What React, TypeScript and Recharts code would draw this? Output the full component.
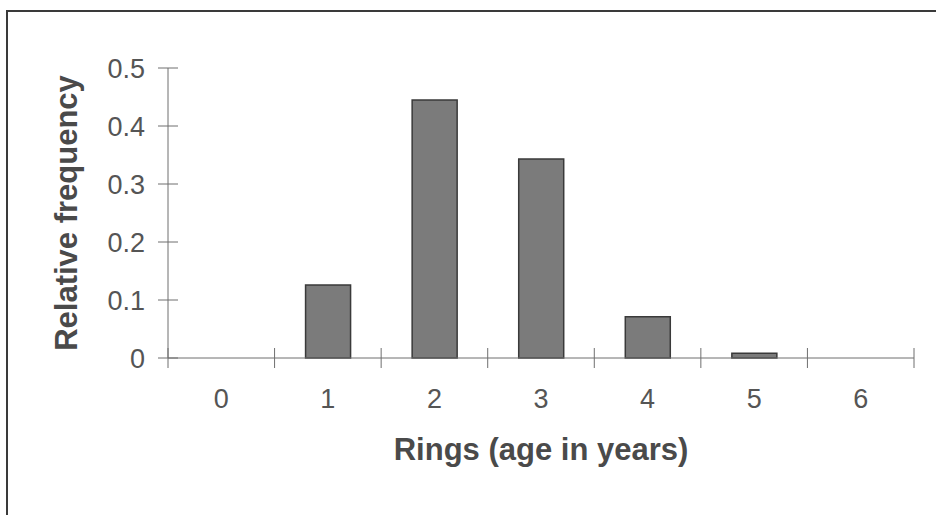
import { BarChart, Bar, XAxis, YAxis, Label } from "recharts";

// rings (age in years) vs relative frequency
const rings = ["0", "1", "2", "3", "4", "5", "6"];
const relFreq = [0, 0.126, 0.445, 0.343, 0.071, 0.008, 0];
const yTicks = [0, 0.1, 0.2, 0.3, 0.4, 0.5];

const data = rings.map((r, i) => ({ ring: r, freq: relFreq[i] }));

const W = 936;
const H = 515;
const LEFT = 168; // y axis width
const RIGHT = 22;
const TOP = 68;
const XAXIS_H = 157;
const BAND = (W - LEFT - RIGHT) / rings.length;

const FONT = "'Liberation Sans', Arial, sans-serif";
const AXIS = "#6f6f6f";
const TEXT = "#555";

const TICK = 10;
const Y_MARGIN = 13;

// y ticks: cross the axis, label to the left
const YTick = (props: any) => {
  const { x, y, payload } = props;
  const ax = x + TICK + Y_MARGIN;
  const label = payload.value === 0 ? "0" : String(payload.value);
  return (
    <g>
      <line x1={ax - 10} x2={ax + 10} y1={y} y2={y} stroke={AXIS} strokeWidth={1} />
      <text x={x} y={y + 10} textAnchor="end" fontSize={27} fill={TEXT} fontFamily={FONT}>
        {label}
      </text>
    </g>
  );
};

// x ticks: lines on category boundaries, labels at centers
const XTick = (props: any) => {
  const { x, y, payload, index } = props;
  const ay = y - TICK;
  const last = index === rings.length - 1;
  return (
    <g>
      <line x1={x - BAND / 2} x2={x - BAND / 2} y1={ay - 10} y2={ay + 10} stroke={AXIS} strokeWidth={1} />
      {last && (
        <line x1={x + BAND / 2} x2={x + BAND / 2} y1={ay - 10} y2={ay + 10} stroke={AXIS} strokeWidth={1} />
      )}
      <text x={x} y={ay + 50} textAnchor="middle" fontSize={27} fill={TEXT} fontFamily={FONT}>
        {payload.value}
      </text>
    </g>
  );
};

export default function App() {
  return (
    <div
      style={{
        position: "fixed",
        left: 0,
        top: 0,
        width: W,
        height: H,
        background: "#fff",
        overflow: "hidden",
      }}
    >
      {/* scanned frame, only top and left edges visible */}
      <div
        style={{
          position: "absolute",
          left: 6,
          top: 10,
          width: 1000,
          height: 700,
          border: "2px solid #3a3a3a",
        }}
      />
      <div style={{ position: "absolute", left: 0, top: 0 }}>
        <BarChart
          width={W}
          height={H}
          data={data}
          margin={{ top: TOP, right: RIGHT, left: 0, bottom: 0 }}
        >
          <XAxis
            dataKey="ring"
            height={XAXIS_H}
            stroke={AXIS}
            tickLine={false}
            tickSize={TICK}
            tickMargin={0}
            tick={<XTick />}
            interval={0}
          >
            <Label
              value="Rings (age in years)"
              position="insideTop"
              offset={80}
              fill="#4a4a4a"
              fontSize={31}
              fontWeight="bold"
              fontFamily={FONT}
            />
          </XAxis>
          <YAxis
            width={LEFT}
            domain={[0, 0.5]}
            ticks={yTicks}
            stroke={AXIS}
            tickLine={false}
            tickSize={TICK}
            tickMargin={Y_MARGIN}
            tick={<YTick />}
            interval={0}
          >
            <Label
              content={(p: any) => {
                const vb = p.viewBox;
                const cy = vb.y + vb.height / 2;
                const cx = 77;
                return (
                  <text
                    x={cx}
                    y={cy}
                    transform={`rotate(-90, ${cx}, ${cy})`}
                    textAnchor="middle"
                    fontSize={31}
                    fontWeight="bold"
                    fill="#4a4a4a"
                    fontFamily={FONT}
                  >
                    Relative frequency
                  </text>
                );
              }}
            />
          </YAxis>
          <Bar
            dataKey="freq"
            fill="#7b7b7b"
            stroke="#3a3a3a"
            strokeWidth={1.5}
            barSize={45}
            isAnimationActive={false}
          />
        </BarChart>
      </div>
    </div>
  );
}
